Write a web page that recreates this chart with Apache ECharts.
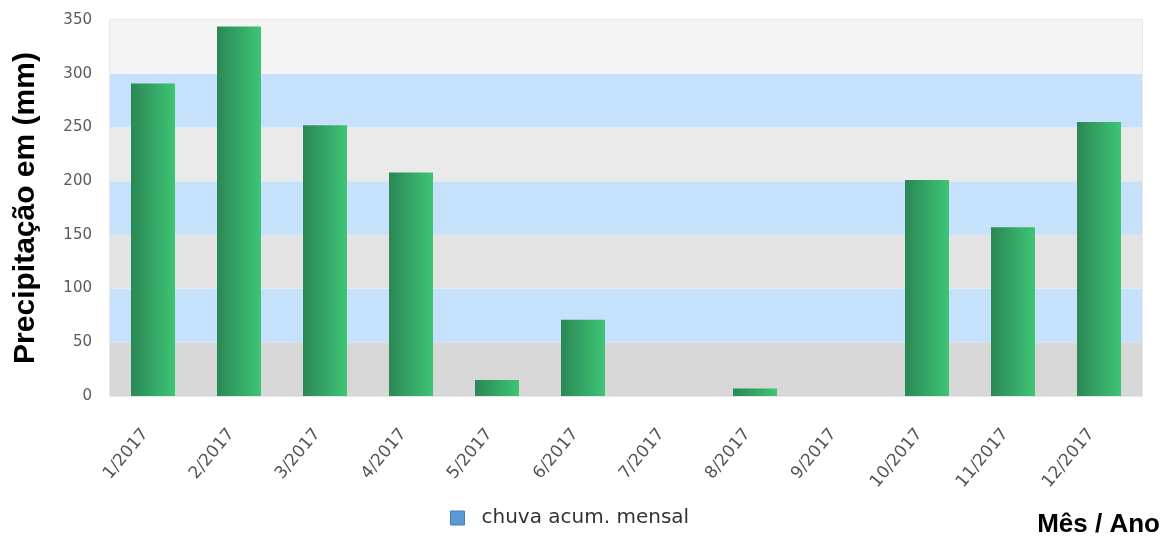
<!DOCTYPE html>
<html>
<head>
<meta charset="utf-8">
<script src="https://cdn.jsdelivr.net/npm/echarts@6/dist/echarts.min.js"></script>
<style>
html, body { margin: 0; padding: 0; background: #fff; }
#chart { width: 1176px; height: 545px; }
</style>
</head>
<body>
<div id="chart"></div>
<script>
var meses = ['1/2017', '2/2017', '3/2017', '4/2017', '5/2017', '6/2017', '7/2017', '8/2017', '9/2017', '10/2017', '11/2017', '12/2017'];
var chuva = [291, 344, 252, 208, 15, 71, 0, 7, 0, 201, 157, 255];
var ticksY = [0, 50, 100, 150, 200, 250, 300, 350];

var myChart = echarts.init(document.getElementById('chart'));
var option = {
    backgroundColor: '#fff',
    animation: false,
    grid: {
        left: 110,
        right: 34,
        top: 20,
        bottom: 149,
        show: true,
        borderColor: '#d0d0d0',
        borderWidth: 1
    },
    legend: {
        data: [{ name: 'chuva acum. mensal', itemStyle: { color: '#5b9bd5', borderColor: '#4a7fb5', borderWidth: 1 } }],
        left: 445,
        top: 503,
        itemWidth: 14,
        itemHeight: 14,
        icon: 'rect',
        textStyle: {
            color: '#333',
            fontSize: 20,
            fontFamily: 'DejaVu Sans',
            padding: [0, 0, 0, 12]
        }
    },
    xAxis: {
        type: 'category',
        data: meses,
        axisTick: { show: false },
        axisLine: { show: false },
        axisLabel: {
            interval: 0,
            rotate: 50,
            margin: 26,
            color: '#555',
            fontSize: 17,
            fontFamily: 'DejaVu Sans',
            padding: [0, 12, 0, 0]
        },
        name: 'Mês / Ano',
        nameLocation: 'end',
        nameGap: 0,
        nameTextStyle: {
            color: '#000',
            fontSize: 26,
            fontWeight: 'bold',
            fontFamily: 'Liberation Sans',
            align: 'right',
            verticalAlign: 'top',
            padding: [116, -18, 0, 0]
        }
    },
    yAxis: {
        type: 'value',
        min: ticksY[0],
        max: ticksY[ticksY.length - 1],
        interval: 50,
        axisLine: { show: false },
        axisTick: { show: false },
        splitLine: { show: false },
        splitArea: {
            show: true,
            areaStyle: {
                color: ['#d7d7d7', '#c6e1fb', '#e3e3e3', '#c6e1fb', '#eaeaea', '#c6e1fb', '#f4f4f4']
            }
        },
        axisLabel: {
            color: '#5a5a5a',
            fontSize: 15,
            fontFamily: 'DejaVu Sans',
            margin: 18
        },
        name: 'Precipitação em (mm)',
        nameLocation: 'middle',
        nameGap: 69,
        nameTextStyle: {
            color: '#000',
            fontSize: 30,
            fontWeight: 'bold',
            fontFamily: 'Liberation Sans'
        }
    },
    series: [{
        name: 'chuva acum. mensal',
        type: 'bar',
        data: chuva,
        barWidth: 44,
        itemStyle: {
            color: new echarts.graphic.LinearGradient(0, 0, 1, 0, [
                { offset: 0, color: '#2a8756' },
                { offset: 1, color: '#3ec574' }
            ])
        }
    }]
};
myChart.setOption(option);
</script>
</body>
</html>
